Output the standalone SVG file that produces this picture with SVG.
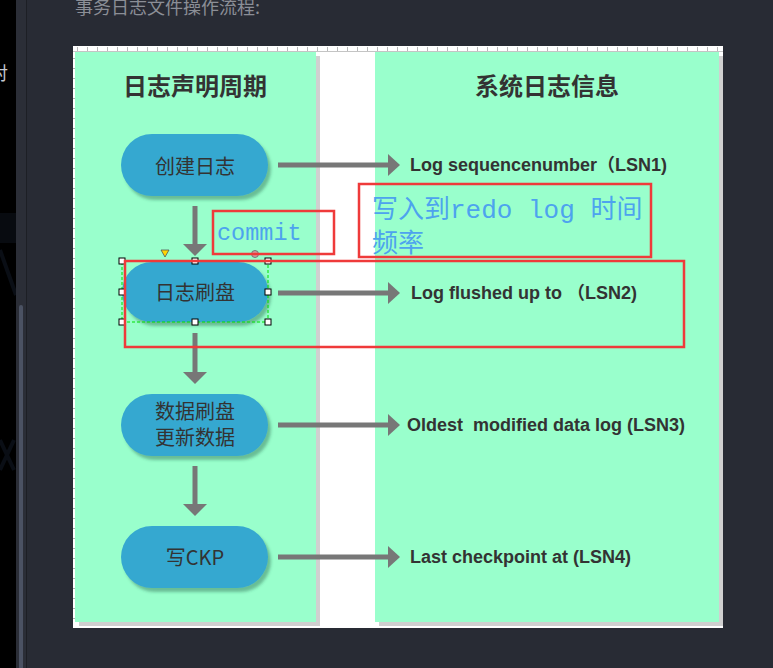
<svg xmlns="http://www.w3.org/2000/svg" width="773" height="668" viewBox="0 0 773 668">
  <defs>
    <style>
      .node { fill: #35a8d0; filter: url(#nshadow); }
      .ntext { font-family: "Noto Sans CJK SC", "Liberation Sans", sans-serif; font-size: 20px; fill: #333333; text-anchor: middle; }
      .title { font-family: "Noto Sans CJK SC", "Liberation Sans", sans-serif; font-size: 24px; font-weight: bold; fill: #333333; text-anchor: middle; }
      .lsn { font-family: "Liberation Sans", Arial, "Noto Sans CJK SC", sans-serif; font-size: 18px; font-weight: bold; fill: #333333; white-space: pre; }
      .conn { stroke: #777777; stroke-width: 5; fill: none; }
      .head { fill: #777777; }
      .red { fill: none; stroke: #ef3a3a; stroke-width: 2.5; }
      .note { font-family: "Liberation Mono", "Noto Sans CJK SC", monospace; fill: #4da3ee; white-space: pre; }
      .handle { fill: #ffffff; stroke: #000000; stroke-width: 1; }
    </style>
    <filter id="nshadow" x="-20%" y="-20%" width="150%" height="160%">
      <feDropShadow dx="3" dy="4" stdDeviation="1.8" flood-color="#2f6e52" flood-opacity="0.45"/>
    </filter>
    <pattern id="tickTop" x="77" y="0" width="10" height="668" patternUnits="userSpaceOnUse">
      <line x1="0.5" y1="47" x2="0.5" y2="51" stroke="#b8b8b8" stroke-width="1"/>
    </pattern>
    <pattern id="tickLeft" x="0" y="58" width="773" height="10" patternUnits="userSpaceOnUse">
      <line x1="73" y1="0.5" x2="75" y2="0.5" stroke="#b0b0b0" stroke-width="1"/>
    </pattern>
  </defs>

  <!-- application background -->
  <rect x="0" y="0" width="773" height="668" fill="#282b34"/>
  <rect x="0" y="0" width="16" height="668" fill="#000000"/>
  <rect x="0" y="213" width="16" height="30" fill="#080b10"/>
  <path d="M0 250 L16 295 M0 440 L14 470 M14 440 L0 470" stroke="#0a0e15" stroke-width="4" fill="none"/>
  <rect x="16" y="0" width="10" height="668" fill="#2b2e37"/>
  <rect x="26" y="0" width="1" height="668" fill="#1d1f25"/>
  <rect x="19" y="305" width="4" height="370" rx="2" fill="#4b5263"/>
  <text x="-10" y="80" font-family="Noto Sans CJK SC, sans-serif" font-size="18" fill="#c4c8d0">对</text>
  <text x="75" y="14" font-family="Noto Sans CJK SC, sans-serif" font-size="18" fill="#8b8e96">事务日志文件操作流程:</text>

  <!-- canvas -->
  <rect x="73" y="46" width="650" height="582" fill="#ffffff"/>
  <rect x="73" y="46" width="650" height="6" fill="url(#tickTop)"/>
  <line x1="73" y1="51.5" x2="723" y2="51.5" stroke="#c4c4c4" stroke-width="1"/>
  <rect x="73" y="52" width="3" height="570" fill="url(#tickLeft)"/>

  <!-- column shadows -->
  <rect x="79" y="56" width="241" height="570" fill="#d0d0d0"/>
  <rect x="379" y="56" width="344" height="570" fill="#d0d0d0"/>
  <!-- columns -->
  <rect x="75" y="52" width="241" height="570" fill="#99ffcc"/>
  <rect x="375" y="52" width="344" height="570" fill="#99ffcc"/>

  <text class="title" x="195" y="95">日志声明周期</text>
  <text class="title" x="547" y="95">系统日志信息</text>

  <!-- connectors -->
  <g id="connectors">
    <line class="conn" x1="195" y1="206" x2="195" y2="245"/>
    <polygon class="head" points="183,244 207,244 195,256"/>
    <line class="conn" x1="195" y1="333" x2="195" y2="373"/>
    <polygon class="head" points="183,372 207,372 195,384"/>
    <line class="conn" x1="195" y1="466" x2="195" y2="505"/>
    <polygon class="head" points="183,504 207,504 195,516"/>

    <line class="conn" x1="278" y1="165" x2="390" y2="165"/>
    <polygon class="head" points="388,154 400,165 388,176"/>
    <line class="conn" x1="278" y1="293" x2="390" y2="293"/>
    <polygon class="head" points="388,282 400,293 388,304"/>
    <line class="conn" x1="278" y1="425" x2="390" y2="425"/>
    <polygon class="head" points="388,414 400,425 388,436"/>
    <line class="conn" x1="278" y1="557" x2="390" y2="557"/>
    <polygon class="head" points="388,546 400,557 388,568"/>
  </g>

  <!-- left nodes -->
  <g id="node-create">
    <rect class="node" x="121" y="134" width="147" height="62" rx="31"/>
    <text class="ntext" x="195" y="174">创建日志</text>
  </g>
  <g id="node-flush">
    <rect class="node" x="122" y="262" width="146" height="60" rx="30"/>
    <text class="ntext" x="195" y="300">日志刷盘</text>
  </g>
  <g id="node-data">
    <rect class="node" x="121" y="394" width="147" height="62" rx="31"/>
    <text class="ntext" font-size="19.5"><tspan x="195" y="419">数据刷盘</tspan><tspan x="195" y="445">更新数据</tspan></text>
  </g>
  <g id="node-ckp">
    <rect class="node" x="121" y="526" width="147" height="62" rx="31"/>
    <text class="ntext" x="195" y="565">写CKP</text>
  </g>

  <!-- right info -->
  <g id="info-lsn1"><text class="lsn" x="410" y="171">Log sequencenumber（LSN1)</text></g>
  <g id="info-lsn2"><text class="lsn" x="411" y="299">Log flushed up to （LSN2)</text></g>
  <g id="info-lsn3"><text class="lsn" x="407" y="431" xml:space="preserve">Oldest  modified data log (LSN3)</text></g>
  <g id="info-lsn4"><text class="lsn" x="410" y="563">Last checkpoint at (LSN4)</text></g>

  <!-- selection of node 2 -->
  <g id="selection">
    <rect x="122" y="261" width="146" height="61" fill="none" stroke="#00e000" stroke-width="1" stroke-dasharray="3,2"/>
    <rect class="handle" x="119" y="258" width="6" height="6"/>
    <rect class="handle" x="192" y="258" width="6" height="6"/>
    <rect class="handle" x="265" y="258" width="6" height="6"/>
    <rect class="handle" x="119" y="289" width="6" height="6"/>
    <rect class="handle" x="265" y="289" width="6" height="6"/>
    <rect class="handle" x="119" y="319" width="6" height="6"/>
    <rect class="handle" x="192" y="319" width="6" height="6"/>
    <rect class="handle" x="265" y="319" width="6" height="6"/>
    <polygon points="161,250 169,250 165,257" fill="#ffd400" stroke="#555" stroke-width="0.8"/>
    <circle cx="255" cy="254" r="3.5" fill="#d09aa0" stroke="#666" stroke-width="0.8"/>
  </g>

  <!-- annotations -->
  <g id="note-commit">
    <rect class="red" x="213" y="211" width="121" height="43"/>
    <text class="note" x="217" y="240" font-size="23.5">commit</text>
  </g>
  <g id="note-redo">
    <rect class="red" x="359" y="184" width="292" height="73"/>
    <text class="note" font-size="26" xml:space="preserve"><tspan x="372" y="218">写入到redo log 时间</tspan><tspan x="372" y="252">频率</tspan></text>
  </g>
  <g id="note-lsn2">
    <rect class="red" x="125" y="261" width="559" height="86"/>
  </g>
</svg>
